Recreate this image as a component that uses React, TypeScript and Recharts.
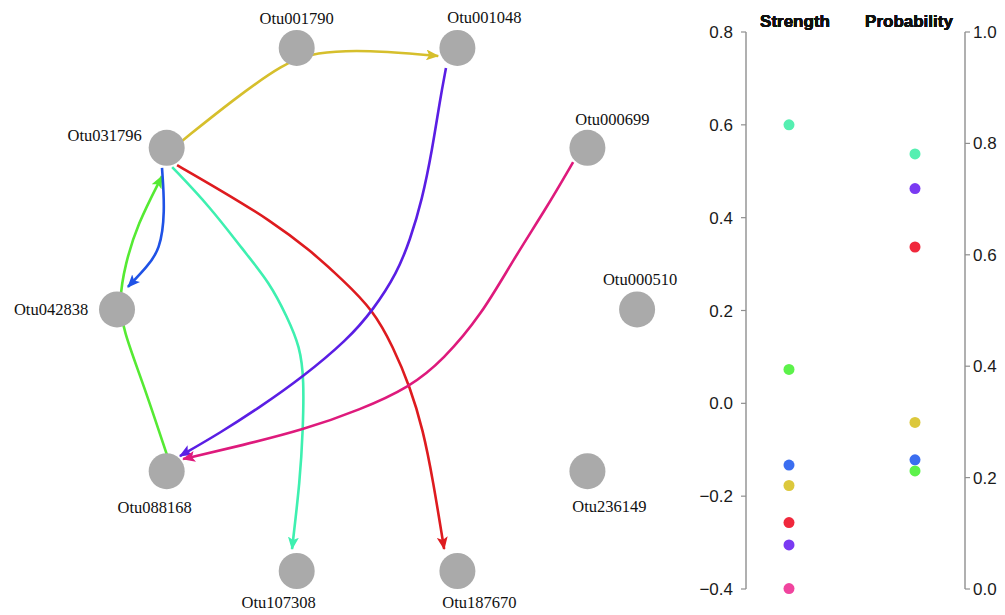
import { ComposedChart, ScatterChart, Line, Scatter, XAxis, YAxis, Cell } from "recharts";

// circle layout of the network, unit coordinates
const NODE_NAMES = [
  "Otu000510", "Otu000699", "Otu001048", "Otu001790", "Otu031796",
  "Otu042838", "Otu088168", "Otu107308", "Otu187670", "Otu236149",
];
const NODE_X = [1, 0.809, 0.309, -0.309, -0.809, -1, -0.809, -0.309, 0.309, 0.809];
const NODE_Y = [0, 0.588, 0.951, 0.951, 0.588, 0, -0.588, -0.951, -0.951, -0.588];

// edges: teal, green, blue, yellow, red, purple, magenta
const EDGE_FROM = ["Otu031796", "Otu088168", "Otu031796", "Otu031796", "Otu031796", "Otu001048", "Otu000699"];
const EDGE_TO = ["Otu107308", "Otu031796", "Otu042838", "Otu001048", "Otu187670", "Otu088168", "Otu088168"];
const STRENGTH = [0.6, 0.073, -0.133, -0.177, -0.257, -0.305, -0.399];
const PROBABILITY = [0.781, 0.212, 0.232, 0.299, 0.614, 0.719, null];

// edge curves (layout units)
const EDGE_PATHS: [number, number][][] = [
  [[-0.788, 0.518], [-0.642, 0.373], [-0.515, 0.216], [-0.412, 0.096], [-0.346, -0.027], [-0.296, -0.136],
    [-0.281, -0.256], [-0.285, -0.438], [-0.296, -0.62], [-0.327, -0.871]],
  [[-0.808, -0.529], [-0.9, -0.267], [-0.977, -0.075], [-0.992, 0.035], [-0.969, 0.162], [-0.923, 0.307], [-0.827, 0.485]],
  [[-0.827, 0.515], [-0.815, 0.351], [-0.835, 0.216], [-0.885, 0.155], [-0.958, 0.082]],
  [[-0.75, 0.613], [-0.554, 0.762], [-0.358, 0.896], [-0.238, 0.936], [-0.038, 0.944], [0.235, 0.922]],
  [[-0.769, 0.525], [-0.604, 0.435], [-0.412, 0.325], [-0.258, 0.216], [-0.131, 0.107], [-0.015, -0.002],
    [0.062, -0.136], [0.127, -0.282], [0.177, -0.438], [0.215, -0.62], [0.258, -0.871]],
  [[0.265, 0.878], [0.242, 0.762], [0.212, 0.58], [0.173, 0.398], [0.127, 0.253], [0.077, 0.133], [-0.015, -0.002],
    [-0.115, -0.111], [-0.285, -0.245], [-0.45, -0.355], [-0.604, -0.449], [-0.758, -0.533]],
  [[0.754, 0.536], [0.654, 0.373], [0.523, 0.18], [0.404, -0.016], [0.254, -0.184], [0.127, -0.282],
    [-0.065, -0.365], [-0.285, -0.438], [-0.515, -0.493], [-0.746, -0.544]],
];

const EDGE_COLORS = ["#3ef0b0", "#55ea33", "#1f52e6", "#d6bf2c", "#de1b1f", "#5a1ee4", "#de1a7c"];
const DOT_COLORS = ["#55efb1", "#5cf24a", "#3b6ef0", "#dcc83c", "#f0283c", "#7a3af2", "#f0449e"];

const STRENGTH_TICKS = [-0.4, -0.2, 0, 0.2, 0.4, 0.6, 0.8];
const PROB_TICKS = [0, 0.2, 0.4, 0.6, 0.8, 1];

const LABEL_OFFSET: Record<string, [number, number]> = {
  Otu000510: [3, -30],
  Otu000699: [25, -28],
  Otu001048: [27, -30],
  Otu001790: [0, -29],
  Otu031796: [-62, -12],
  Otu042838: [-66, 0],
  Otu088168: [-12, 36],
  Otu107308: [-18, 31],
  Otu187670: [22, 31],
  Otu236149: [22, 35],
};
const HEADER_DX: Record<string, number> = { Strength: 6, Probability: -6 };

const nodes = NODE_NAMES.map((name, i) => ({ name, x: NODE_X[i], y: NODE_Y[i] }));
const edgeLines = EDGE_PATHS.map((pts) => pts.map(([x, y]) => ({ x, y })));

const strengthRows = STRENGTH.map((value, i) => ({ metric: "Strength", value, color: DOT_COLORS[i] }));
const probRows = PROBABILITY.map((value, i) => ({ metric: "Probability", value, color: DOT_COLORS[i] })).filter(
  (r) => r.value !== null
);

const fmt = (v: number) => (v < 0 ? "\u2212" : "") + Math.abs(v).toFixed(1);

function NodeShape(props: any) {
  const { cx, cy, payload } = props;
  const [dx, dy] = LABEL_OFFSET[payload.name] || [0, 0];
  return (
    <g>
      <circle cx={cx} cy={cy} r={18} fill="#aaaaaa" />
      <text
        x={cx + dx}
        y={cy + dy}
        textAnchor="middle"
        dominantBaseline="central"
        fontFamily="'Liberation Serif', serif"
        fontSize={16.5}
        fill="#111"
      >
        {payload.name}
      </text>
    </g>
  );
}

function Dot(props: any) {
  const { cx, cy, fill } = props;
  return <circle cx={cx} cy={cy} r={5.5} fill={fill} />;
}

function HeaderTick(props: any) {
  const { x, y, payload } = props;
  return (
    <text x={x + (HEADER_DX[payload.value] || 0)} y={y + 2} textAnchor="middle" fontWeight="bold" fontSize={17} fill="#111">
      {payload.value}
    </text>
  );
}

const axisColor = "#8f8f8f";

export default function App() {
  return (
    <div style={{ position: "absolute", left: 0, top: 0, width: 1005, height: 615, background: "#fff", fontFamily: "'Liberation Sans', Arial, sans-serif" }}>
      <div style={{ position: "absolute", left: 0, top: 0 }}>
        <ComposedChart width={680} height={615} margin={{ top: 0, right: 0, bottom: 0, left: 0 }}>
          <defs>
            {EDGE_COLORS.map((c, i) => (
              <marker
                key={i}
                id={`arrow-${i}`}
                viewBox="0 0 13 11"
                refX={12}
                refY={5.5}
                markerWidth={13}
                markerHeight={11}
                markerUnits="userSpaceOnUse"
                orient="auto"
              >
                <path d="M0,0 L13,5.5 L0,11 L3,5.5 Z" fill={c} />
              </marker>
            ))}
          </defs>
          <XAxis type="number" dataKey="x" domain={[-1.45, 1.165]} hide allowDataOverflow />
          <YAxis type="number" dataKey="y" domain={[-1.111, 1.1255]} hide allowDataOverflow />
          {edgeLines.map((pts, i) => (
            <Line
              key={i}
              name={`${EDGE_FROM[i]} -> ${EDGE_TO[i]}`}
              data={pts}
              dataKey="y"
              type="basis"
              stroke={EDGE_COLORS[i]}
              strokeWidth={2.6}
              dot={false}
              activeDot={false}
              markerEnd={`url(#arrow-${i})`}
              isAnimationActive={false}
            />
          ))}
          <Scatter data={nodes} shape={NodeShape} isAnimationActive={false} />
        </ComposedChart>
      </div>
      <div style={{ position: "absolute", left: 680, top: 0 }}>
        <ScatterChart width={325} height={615} margin={{ top: 2, right: 0, bottom: 26, left: 10 }}>
          <XAxis
            type="category"
            dataKey="metric"
            orientation="top"
            scale="point"
            allowDuplicatedCategory={false}
            padding={{ left: 43, right: 50 }}
            height={30}
            axisLine={false}
            tickLine={false}
            tickMargin={1}
            tick={HeaderTick}
          />
          <YAxis
            yAxisId="s"
            type="number"
            dataKey="value"
            orientation="left"
            width={56}
            domain={[-0.4, 0.8]}
            ticks={STRENGTH_TICKS}
            tickFormatter={fmt}
            tickSize={5}
            tickMargin={8}
            axisLine={{ stroke: axisColor, strokeWidth: 1.4 }}
            tickLine={{ stroke: axisColor, strokeWidth: 1.2 }}
            tick={{ fontSize: 17, fill: "#1a1a1a" }}
          />
          <YAxis
            yAxisId="p"
            type="number"
            dataKey="value"
            orientation="right"
            width={40}
            domain={[0, 1]}
            ticks={PROB_TICKS}
            tickFormatter={fmt}
            tickSize={5}
            tickMargin={3}
            axisLine={{ stroke: axisColor, strokeWidth: 1.4 }}
            tickLine={{ stroke: axisColor, strokeWidth: 1.2 }}
            tick={{ fontSize: 17, fill: "#1a1a1a" }}
          />
          <Scatter yAxisId="s" data={strengthRows} shape={Dot} isAnimationActive={false}>
            {strengthRows.map((r, i) => (
              <Cell key={i} fill={r.color} />
            ))}
          </Scatter>
          <Scatter yAxisId="p" data={probRows} shape={Dot} isAnimationActive={false}>
            {probRows.map((r, i) => (
              <Cell key={i} fill={r.color} />
            ))}
          </Scatter>
        </ScatterChart>
      </div>
    </div>
  );
}
